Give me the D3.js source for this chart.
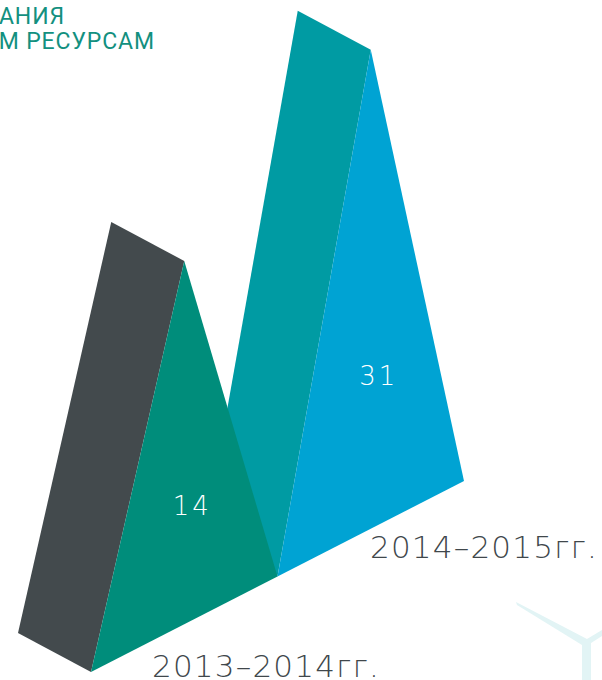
<!DOCTYPE html>
<html lang="ru">
<head>
  <meta charset="UTF-8">
  <meta name="viewport" content="width=device-width, initial-scale=1.0">
  <script src="https://d3js.org/d3.v7.min.js"></script>
  <title>Document</title>
  <style>
    html, body { margin: 0; padding: 0; background: #fff; overflow: hidden; }
    svg { display: block; }
  </style>
</head>
<body>
  <script>
    // chart data
    const categories = ["2013–2014гг.", "2014–2015гг."]
    const values = [14, 31]
    const titleLines = ["ФИНАНСИРОВАНИЯ", "К ФИНАНСОВЫМ РЕСУРСАМ"]
    const frontColors = ["#008d7b", "#00a3d3"]
    const sideColors = ["#434a4d", "#009ba3"]

    window.addEventListener("DOMContentLoaded", ()=>{

      /*=======================*/
      /* Setting Up SVG Canvas */
      /*=======================*/
      const width = 602
      const height = 680
      const depth = [-73, -39]   // offset of the back face

      const svg = d3.select("body").append("svg")
                    .attr("width", width)
                    .attr("height", height)

      /*==========*/
      /* Scales   */
      /*==========*/
      // front base of each prism, along a sloped ground line
      const xScale = d3.scaleBand()
                      .domain(categories)
                      .range([91, 464])
                      .padding(0)

      const groundY = d3.scaleLinear()
                      .domain([91, 464])
                      .range([672, 481])

      const hScale = d3.scaleLinear()
                      .domain([0, d3.max(values)])
                      .range([268, 479])

      const labelX = d3.scalePoint().domain(categories).range([152, 370])
      const labelY = d3.scalePoint().domain(categories).range([677, 558])

      const prisms = categories.map((c, i)=>{
        const x0 = xScale(c)
        const x1 = x0 + xScale.bandwidth()
        const xm = x0 + xScale.bandwidth() / 2
        const h = hScale(values[i])
        const left = [x0, groundY(x0)]
        const right = [x1, groundY(x1)]
        const apex = [xm, groundY(xm) - h]
        const label = [xm + 8, groundY(xm) - h * 0.3]
        return { c, i, v: values[i], left, right, apex, label }
      })

      /*==============================*/
      /* Decorative mark bottom right */
      /*==============================*/
      svg.append("path")
        .attr("d", "M516,602 L587,639 L602,630 L602,636 L591,643 L591,680 L582,680 L582,645 L517,605 Z")
        .attr("fill", "#e2f4f5")

      /*================*/
      /* Drawing Prisms */
      /*================*/
      const back = p => [p[0] + depth[0], p[1] + depth[1]]
      const line = d3.line()

      // back-to-front so the first prism overlaps the second one
      const g = svg.selectAll("g.prism")
        .data(prisms.slice().reverse())
        .enter()
        .append("g")
        .attr("class", "prism")

      g.append("path")
        .attr("d", d=> line([d.left, d.apex, back(d.apex), back(d.left)]) + "Z")
        .attr("fill", d=> sideColors[d.i])

      g.append("path")
        .attr("d", d=> line([d.left, d.apex, d.right]) + "Z")
        .attr("fill", d=> frontColors[d.i])

      g.append("text")
        .attr("x", d=> d.label[0])
        .attr("y", d=> d.label[1])
        .attr("text-anchor", "middle")
        .attr("fill", "#fff")
        .attr("font-family", "'DejaVu Sans', sans-serif")
        .attr("font-weight", 200)
        .attr("font-size", 26)
        .attr("letter-spacing", 3)
        .text(d=> d.v)

      /*=================*/
      /* Category Labels */
      /*=================*/
      svg.selectAll("text.cat")
        .data(categories)
        .enter()
        .append("text")
        .attr("class", "cat")
        .attr("x", d=> labelX(d))
        .attr("y", d=> labelY(d))
        .attr("fill", "#40474b")
        .attr("font-family", "'DejaVu Sans', sans-serif")
        .attr("font-weight", 200)
        .attr("font-size", 31)
        .attr("letter-spacing", 1.2)
        .text(d=> d)

      /*=======*/
      /* Title */
      /*=======*/
      svg.selectAll("text.title")
        .data(titleLines)
        .enter()
        .append("text")
        .attr("class", "title")
        .attr("x", (d, i)=> i ? 155 : 65)
        .attr("y", (d, i)=> 24 + i * 25)
        .attr("text-anchor", "end")
        .attr("fill", "#13907f")
        .attr("font-family", "Roboto, sans-serif")
        .attr("font-size", 23)
        .attr("letter-spacing", 0.9)
        .text(d=> d)
    })
  </script>
</body>
</html>
